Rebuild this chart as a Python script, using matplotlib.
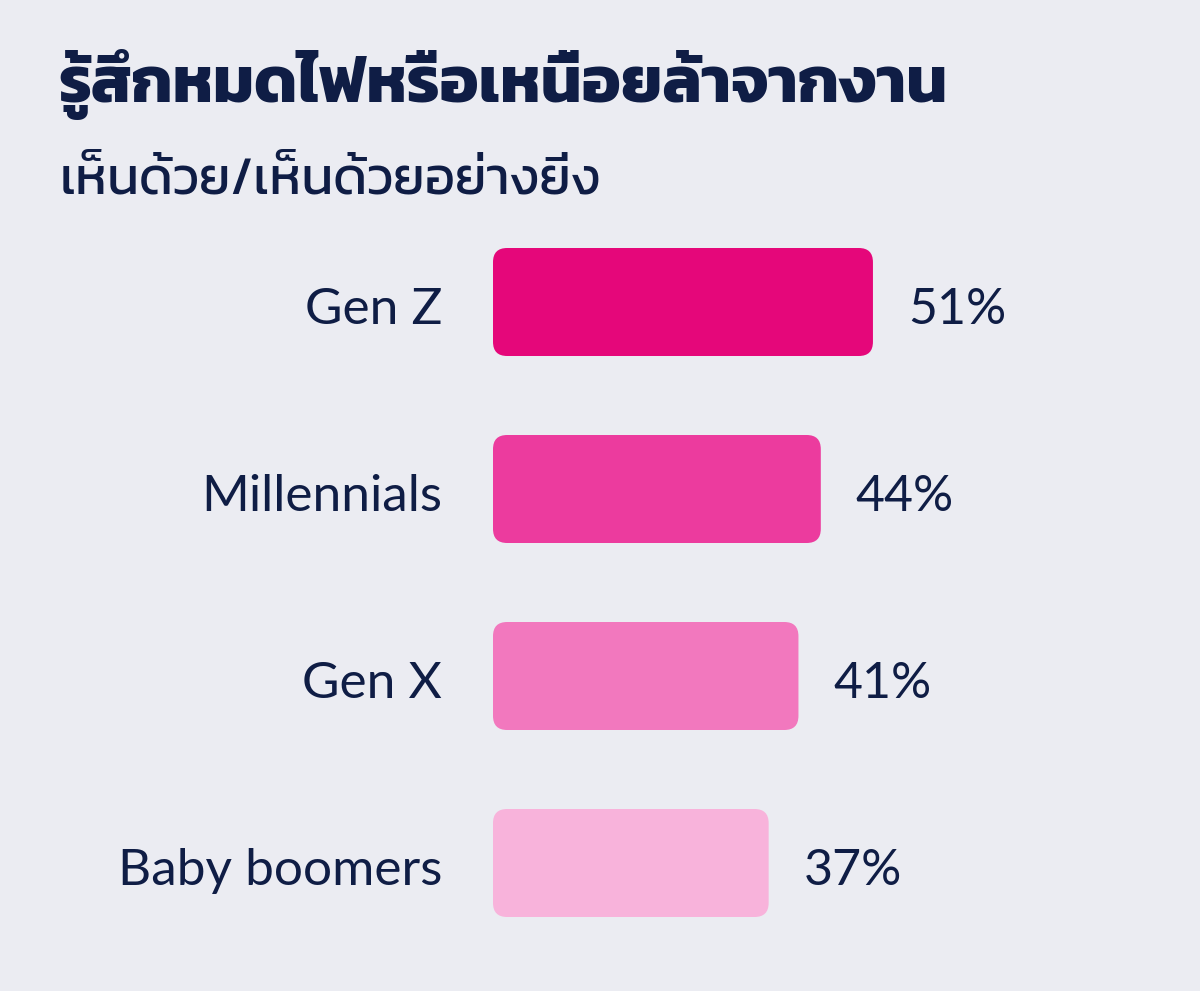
import matplotlib
matplotlib.use("Agg")
import matplotlib.pyplot as plt
from matplotlib.patches import FancyBboxPatch

# ---- data ----
categories = ["Gen Z", "Millennials", "Gen X", "Baby boomers"]
values = [51, 44, 41, 37]
bar_colors = ["#E5077A", "#EC3B9E", "#F278BE", "#F8B3DB"]
title = "รู้สึกหมดไฟหรือเหนื่อยล้าจากงาน"
subtitle = "เห็นด้วย/เห็นด้วยอย่างยิ่ง"

BG = "#EBECF2"
INK = "#0F1D45"

plt.rcParams["font.family"] = ["Lato", "Kanit", "DejaVu Sans"]

fig = plt.figure(figsize=(12, 9.91), dpi=100)
fig.patch.set_facecolor(BG)

W, H = 1200, 991
px_per_pct = 7.45
x0 = 493
row_gap = 187
y_first = 302
ax_top = y_first - row_gap / 2
ax_bot = y_first + row_gap * 3.5
xmax = 80
ax = fig.add_axes([x0 / W, (H - ax_bot) / H, xmax * px_per_pct / W, (ax_bot - ax_top) / H])
ax.set_facecolor(BG)
ax.set_xlim(0, xmax)
ax.set_ylim(len(categories) - 0.5, -0.5)
ax.axis("off")

bar_h = 108 / row_gap
aspect = px_per_pct / row_gap
base_off = 22 / row_gap  # text baseline sits a bit under the bar centre
for i, (v, c, name) in enumerate(zip(values, bar_colors, categories)):
    box = FancyBboxPatch((0, i - bar_h / 2), v, bar_h,
                         boxstyle="round,pad=0,rounding_size=1.9",
                         mutation_aspect=aspect, fc=c, ec="none")
    ax.add_patch(box)
    ax.text(v + 35 / px_per_pct, i + base_off, f"{v}%", va="baseline", ha="left",
            fontsize=36, color=INK)
    ax.text(-51 / px_per_pct, i + base_off, name, va="baseline", ha="right",
            fontsize=37, color=INK, clip_on=False)

fig.text(58 / W, 1 - 102 / H, title, fontsize=47, fontweight="bold",
         color=INK, family=["Kanit", "DejaVu Sans"])
fig.text(60 / W, 1 - 194 / H, subtitle, fontsize=38, fontweight="normal",
         color=INK, family=["Kanit", "DejaVu Sans"])

fig.savefig("out.png", dpi=100, facecolor=BG)
